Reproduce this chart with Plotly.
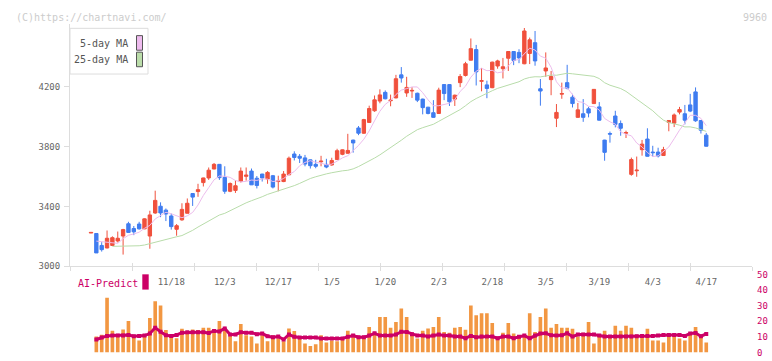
import plotly.graph_objects as go
import pandas as pd

# ---------------- data ----------------
jp_holidays = ["2025-11-03", "2025-11-24", "2025-12-31", "2026-01-01", "2026-01-02",
               "2026-01-12", "2026-02-11", "2026-02-23", "2026-03-20"]
dates = [d.strftime("%Y-%m-%d") for d in
         pd.bdate_range("2025-10-27", "2026-04-17", freq="C", holidays=jp_holidays)]

tick_dates = ["2025-11-18", "2025-12-03", "2025-12-17", "2026-01-05", "2026-01-20", "2026-02-03",
              "2026-02-18", "2026-03-05", "2026-03-19", "2026-04-03", "2026-04-17"]
tick_text = ["11/18", "12/3", "12/17", "1/5", "1/20", "2/3", "2/18", "3/5", "3/19", "4/3", "4/17"]

opens = [3222, 3219, 3139, 3122, 3139, 3169, 3202, 3284, 3252, 3282,
         3250, 3202, 3356, 3401, 3375, 3336, 3247, 3310, 3354, 3486,
         3499, 3559, 3590, 3650, 3681, 3594, 3501, 3507, 3566, 3601,
         3636, 3588, 3616, 3583, 3605, 3566, 3566, 3611, 3750, 3735,
         3724, 3711, 3681, 3698, 3681, 3677, 3713, 3748, 3755, 3843,
         3924, 3889, 3961, 4039, 4104, 4162, 4106, 4125, 4279, 4158,
         4171, 4156, 4117, 4063, 4026, 4021, 4214, 4214, 4117, 4227,
         4275, 4377, 4448, 4236, 4212, 4193, 4338, 4320, 4390, 4435,
         4429, 4353, 4422, 4494, 4186, 4305, 4247, 3989, 4150, 4227,
         4130, 3995, 4019, 4052, 4087, 4065, 3843, 3887, 4004, 3954,
         3889, 3614, 3638, 3779, 3850, 3763, 3763, 3740, 3961, 3956,
         4030, 4019, 4078, 4165, 3974, 3876]
highs = [3226, 3222, 3161, 3239, 3200, 3232, 3250, 3297, 3269, 3297,
         3320, 3371, 3505, 3427, 3386, 3352, 3282, 3421, 3453, 3488,
         3551, 3592, 3660, 3690, 3683, 3668, 3560, 3573, 3660, 3660,
         3653, 3603, 3618, 3636, 3610, 3605, 3636, 3733, 3768, 3750,
         3744, 3713, 3711, 3738, 3718, 3725, 3785, 3780, 3885, 3846,
         3937, 3985, 4073, 4141, 4182, 4175, 4147, 4279, 4331, 4266,
         4197, 4160, 4120, 4065, 4110, 4193, 4216, 4216, 4147, 4284,
         4366, 4522, 4479, 4325, 4240, 4367, 4380, 4392, 4437, 4437,
         4450, 4592, 4528, 4572, 4251, 4429, 4305, 4084, 4227, 4346,
         4152, 4091, 4117, 4065, 4184, 4097, 3845, 3900, 4039, 3974,
         3906, 3726, 3733, 3844, 3922, 3805, 3792, 3798, 3976, 4021,
         4065, 4078, 4152, 4195, 3976, 3891]
lows = [3222, 3089, 3098, 3120, 3135, 3159, 3078, 3224, 3208, 3245,
        3248, 3117, 3350, 3328, 3302, 3245, 3204, 3304, 3354, 3403,
        3464, 3533, 3577, 3648, 3577, 3484, 3495, 3490, 3560, 3572,
        3544, 3520, 3566, 3551, 3520, 3501, 3562, 3609, 3707, 3690,
        3668, 3653, 3655, 3668, 3655, 3672, 3711, 3742, 3753, 3759,
        3876, 3885, 3958, 4032, 4089, 4115, 4069, 4122, 4227, 4132,
        4125, 4097, 4015, 4015, 3993, 4019, 4110, 4071, 4071, 4197,
        4268, 4375, 4208, 4169, 4123, 4190, 4320, 4255, 4305, 4344,
        4357, 4350, 4351, 4340, 4073, 4266, 4143, 3930, 4119, 4182,
        4061, 3993, 3965, 3995, 4084, 3974, 3705, 3826, 3928, 3872,
        3857, 3605, 3598, 3739, 3733, 3733, 3727, 3738, 3902, 3930,
        4015, 3948, 4030, 3965, 3887, 3800]
closes = [3226, 3089, 3111, 3187, 3191, 3187, 3245, 3226, 3230, 3250,
          3317, 3343, 3440, 3356, 3349, 3265, 3271, 3380, 3421, 3462,
          3512, 3590, 3642, 3681, 3592, 3501, 3553, 3538, 3636, 3609,
          3544, 3540, 3590, 3627, 3529, 3570, 3616, 3722, 3727, 3722,
          3683, 3672, 3668, 3702, 3663, 3707, 3772, 3778, 3774, 3824,
          3889, 3980, 4054, 4112, 4145, 4119, 4110, 4253, 4258, 4195,
          4175, 4110, 4060, 4021, 3995, 4177, 4154, 4099, 4143, 4268,
          4353, 4454, 4299, 4240, 4188, 4364, 4372, 4333, 4435, 4375,
          4392, 4572, 4513, 4372, 4171, 4325, 4268, 4028, 4154, 4190,
          4087, 4045, 3995, 4024, 4182, 3976, 3761, 3883, 3948, 3922,
          3893, 3713, 3642, 3816, 3735, 3759, 3737, 3779, 3974, 4011,
          4047, 3976, 4037, 3972, 3909, 3802]

ma5 = [None, 3168, 3165, 3162, 3160.4, 3153.0, 3184.2, 3207.2, 3215.8, 3227.6,
       3253.6, 3273.2, 3316.0, 3341.2, 3361.0, 3350.6, 3336.2, 3324.2, 3337.2, 3359.8,
       3409.2, 3473.0, 3525.4, 3577.4, 3603.4, 3601.2, 3593.8, 3573.0, 3564.0, 3567.4,
       3576.0, 3573.4, 3583.8, 3582.0, 3566.0, 3571.2, 3586.4, 3612.8, 3632.8, 3671.4,
       3694.0, 3705.2, 3694.4, 3689.4, 3677.6, 3682.4, 3702.4, 3724.4, 3738.8, 3771.0,
       3807.4, 3849.0, 3904.2, 3971.8, 4036.0, 4082.0, 4108.0, 4147.8, 4177.0, 4187.0,
       4198.2, 4198.2, 4159.6, 4112.2, 4072.2, 4072.6, 4081.4, 4089.2, 4113.6, 4168.2,
       4203.4, 4263.4, 4303.4, 4322.8, 4306.8, 4309.0, 4292.6, 4299.4, 4338.4, 4375.8,
       4381.4, 4421.4, 4457.4, 4444.8, 4404.0, 4390.6, 4329.8, 4232.8, 4189.2, 4193.0,
       4145.4, 4100.8, 4094.2, 4068.2, 4066.6, 4044.4, 3987.6, 3965.2, 3950.0, 3898.0,
       3881.4, 3871.8, 3823.6, 3797.2, 3759.8, 3733.0, 3737.8, 3765.2, 3796.8, 3852.0,
       3909.6, 3957.4, 4009.0, 4008.6, 3988.2, 3939.2]
ma25 = [None, None, None, None, 3133, 3133, 3133, 3134, 3135, 3137,
        3142, 3152, 3160, 3167, 3178, 3190, 3197, 3205, 3222, 3240,
        3262, 3282, 3302, 3322, 3342.4, 3353.5, 3372.1, 3389.2, 3407.1, 3423.8,
        3438.1, 3449.9, 3464.5, 3480.4, 3491.5, 3501.6, 3512.6, 3523.8, 3538.7, 3553.6,
        3570.3, 3586.4, 3597.9, 3609.1, 3617.2, 3625.0, 3632.2, 3637.7, 3641.4, 3650.7,
        3666.2, 3683.3, 3703.9, 3723.0, 3744.4, 3767.4, 3790.2, 3816.7, 3842.0, 3868.6,
        3892.8, 3912.6, 3926.1, 3937.8, 3948.8, 3968.5, 3987.8, 4005.0, 4022.7, 4046.9,
        4072.7, 4100.0, 4120.8, 4139.5, 4154.0, 4173.0, 4188.7, 4199.9, 4212.8, 4222.0,
        4232.9, 4251.4, 4261.8, 4266.4, 4265.4, 4271.4, 4277.7, 4276.4, 4281.8, 4289.6,
        4286.0, 4281.6, 4277.4, 4272.7, 4269.2, 4254.2, 4226.4, 4209.8, 4198.1, 4187.5,
        4168.6, 4142.3, 4114.6, 4089.9, 4064.3, 4039.0, 4005.6, 3976.2, 3960.3, 3953.9,
        3942.8, 3931.1, 3931.4, 3924.2, 3912.9, 3901.5]

ai_bars = [None, 10.2, 11.4, 35.2, 13.9, 11.4, 14.8, 20.2, 10.8, 7.7,
           10.8, 22.1, 32.9, 30.2, 14.4, 11.4, 9.1, 15.2, 13.5, 14.8,
           14.4, 15.8, 15.8, 13.8, 20.2, 15.0, 10.6, 7.1, 18.3, 11.0,
           10.2, 5.8, 11.0, 7.1, 10.8, 9.1, 7.1, 15.4, 13.8, 9.1,
           5.8, 4.1, 5.2, 11.0, 6.4, 7.7, 7.1, 8.0, 13.9, 10.6,
           9.0, 9.0, 16.4, 12.5, 22.7, 22.7, 15.8, 19.6, 28.3, 22.7,
           10.6, 9.0, 13.9, 15.4, 16.4, 22.7, 13.1, 12.7, 15.8, 16.4,
           14.6, 30.2, 23.9, 25.2, 25.2, 18.9, 9.0, 12.7, 18.9, 12.1,
           10.2, 11.0, 25.2, 13.1, 22.7, 28.3, 15.8, 18.3, 15.8, 15.8,
           15.2, 10.2, 12.7, 19.6, 5.8, 11.4, 13.9, 11.0, 17.1, 13.9,
           17.1, 15.8, 11.4, 11.4, 15.2, 7.7, 7.7, 6.4, 11.4, 11.0,
           9.0, 7.7, 11.4, 16.4, 11.0, 6.4]
ai_line = [None, 8.3, 9.6, 10.6, 10.8, 10.8, 10.8, 11.2, 10.4, 10.6,
           10.8, 12.1, 15.8, 13.3, 11.0, 10.6, 11.2, 12.7, 12.9, 12.9,
           12.9, 12.9, 12.5, 13.8, 13.5, 15.4, 11.5, 11.5, 12.9, 12.7,
           12.7, 11.7, 12.1, 10.4, 9.8, 10.2, 8.3, 11.5, 10.0, 9.6,
           9.6, 9.6, 9.6, 9.0, 9.0, 9.0, 9.0, 9.0, 10.0, 10.8,
           9.8, 9.8, 10.8, 12.3, 10.8, 10.8, 10.8, 11.5, 13.3, 13.1,
           11.7, 10.8, 10.8, 10.2, 10.8, 11.5, 10.8, 10.8, 10.2, 10.2,
           9.1, 10.6, 9.8, 10.2, 10.2, 10.2, 9.1, 10.2, 10.2, 9.1,
           10.0, 10.8, 9.1, 10.8, 12.1, 12.3, 11.0, 10.8, 11.0, 12.3,
           10.2, 11.5, 11.5, 11.5, 11.5, 10.8, 10.2, 10.2, 10.2, 10.2,
           10.2, 10.2, 10.4, 10.6, 10.6, 10.6, 10.8, 11.2, 11.2, 11.2,
           11.2, 10.6, 12.1, 12.5, 10.4, 11.9]

# ---------------- styling ----------------
W, H = 772, 361
FONT = "DejaVu Sans Mono"
RED, BLUE = "#f0503c", "#3f7cf0"
MAGENTA = "#cc0066"
AXC = "#dddddd"

def px(x):
    return x / W

def py(y):
    return 1 - y / H

XDOM = [px(70), px(752)]
XRANGE = [-3.925, 123.55]

fig = go.Figure()

fig.add_trace(go.Scatter(x=dates, y=ma25, mode="lines", line=dict(color="#b8dcaa", width=1),
                         connectgaps=False, hoverinfo="skip", xaxis="x", yaxis="y"))
fig.add_trace(go.Scatter(x=dates, y=ma5, mode="lines", line=dict(color="#ecbcec", width=1),
                         connectgaps=False, hoverinfo="skip", xaxis="x", yaxis="y"))
fig.add_trace(go.Candlestick(
    x=dates, open=opens, high=highs, low=lows, close=closes,
    increasing=dict(line=dict(color=RED, width=1), fillcolor=RED),
    decreasing=dict(line=dict(color=BLUE, width=1), fillcolor=BLUE),
    whiskerwidth=0, xaxis="x", yaxis="y"))

fig.add_trace(go.Bar(x=dates, y=ai_bars, marker=dict(color="#f29742", line=dict(width=0)),
                     width=0.68, xaxis="x2", yaxis="y2", hoverinfo="skip"))
fig.add_trace(go.Scatter(x=dates, y=ai_line, mode="lines+markers",
                         line=dict(color=MAGENTA, width=3),
                         marker=dict(color=MAGENTA, size=4, symbol="square"),
                         xaxis="x2", yaxis="y2", hoverinfo="skip"))
# invisible traces so the overlay tick axes are drawn
fig.add_trace(go.Scatter(x=[], y=[], xaxis="x3", yaxis="y", showlegend=False))
fig.add_trace(go.Scatter(x=[], y=[], xaxis="x4", yaxis="y", showlegend=False))

tick_overlay = dict(domain=XDOM, overlaying="x", anchor="y", range=[0, 11],
                    tickmode="linear", tick0=0, dtick=1, tickcolor=AXC,
                    showticklabels=False, showline=False,
                    showgrid=False, zeroline=False, fixedrange=True)

fig.update_layout(
    width=W, height=H, autosize=False,
    margin=dict(l=0, r=0, t=0, b=0, pad=0),
    paper_bgcolor="white", plot_bgcolor="white",
    showlegend=False, boxgap=0.1,
    font=dict(family=FONT, size=9, color="#666666"),
    xaxis=dict(domain=XDOM, type="category", range=XRANGE, anchor="y",
               tickmode="array", tickvals=tick_dates, ticktext=tick_text,
               ticks="", ticklabelstandoff=7,
               tickfont=dict(family=FONT, size=9, color="#666666"),
               showline=True, linecolor=AXC, linewidth=1,
               showgrid=False, zeroline=False, rangeslider=dict(visible=False),
               fixedrange=True),
    yaxis=dict(domain=[py(268.7), py(20)], range=[3000, 4615.8], anchor="x",
               tickmode="array", tickvals=[3000, 3400, 3800, 4200],
               ticks="outside", ticklen=5, tickcolor=AXC, ticklabelstandoff=2,
               tickfont=dict(family=FONT, size=9, color="#666666"),
               showline=True, linecolor=AXC, linewidth=1,
               showgrid=False, zeroline=False, fixedrange=True),
    xaxis3=dict(tick_overlay, ticks="outside", ticklen=4),
    xaxis4=dict(tick_overlay, ticks="inside", ticklen=3),
    xaxis2=dict(domain=XDOM, type="category", range=XRANGE, anchor="y2",
                showticklabels=False, ticks="", showline=False,
                showgrid=False, zeroline=False, fixedrange=True),
    yaxis2=dict(domain=[py(357.3), py(277.3)], range=[0, 50], anchor="x2", side="right",
                tickmode="array", tickvals=[0, 10, 20, 30, 40, 50],
                ticks="", ticklabelstandoff=4,
                tickfont=dict(family=FONT, size=9, color=MAGENTA),
                showline=False, showgrid=False, zeroline=False, fixedrange=True),
)

shapes = [
    dict(type="rect", xref="paper", yref="paper", x0=px(70), x1=px(148), y0=py(71), y1=py(24),
         line=dict(color=AXC, width=1), fillcolor="white", layer="above"),
    dict(type="rect", xref="paper", yref="paper", x0=px(136.5), x1=px(142.5), y0=py(46.5), y1=py(31.5),
         line=dict(color="#555555", width=1), fillcolor="#eebbee", layer="above"),
    dict(type="rect", xref="paper", yref="paper", x0=px(136.5), x1=px(142.5), y0=py(63.5), y1=py(48.5),
         line=dict(color="#555555", width=1), fillcolor="#bbddaa", layer="above"),
    dict(type="rect", xref="paper", yref="paper", x0=px(142.3), x1=px(148.7), y0=py(292.7), y1=py(277),
         line=dict(width=0), fillcolor=MAGENTA, layer="above"),
]
annotations = [
    dict(text="(C)https://chartnavi.com/", x=px(14), y=py(12.7), xref="paper", yref="paper",
         xanchor="left", yanchor="middle", showarrow=False,
         font=dict(family=FONT, size=10, color="#cccccc")),
    dict(text="9960", x=px(769), y=py(12.7), xref="paper", yref="paper",
         xanchor="right", yanchor="middle", showarrow=False,
         font=dict(family=FONT, size=10, color="#cccccc")),
    dict(text="5-day MA", x=px(130), y=py(39.5), xref="paper", yref="paper",
         xanchor="right", yanchor="middle", showarrow=False,
         font=dict(family=FONT, size=10, color="#555555")),
    dict(text="25-day MA", x=px(130), y=py(56.5), xref="paper", yref="paper",
         xanchor="right", yanchor="middle", showarrow=False,
         font=dict(family=FONT, size=10, color="#555555")),
    dict(text="AI-Predict", x=px(75.5), y=py(286), xref="paper", yref="paper",
         xanchor="left", yanchor="middle", showarrow=False,
         font=dict(family=FONT, size=10, color=MAGENTA)),
]
fig.update_layout(shapes=shapes, annotations=annotations)

fig.write_html("out.html", config={"displayModeBar": False},
               post_script="document.body.style.margin='0px';document.body.style.overflow='hidden';")
